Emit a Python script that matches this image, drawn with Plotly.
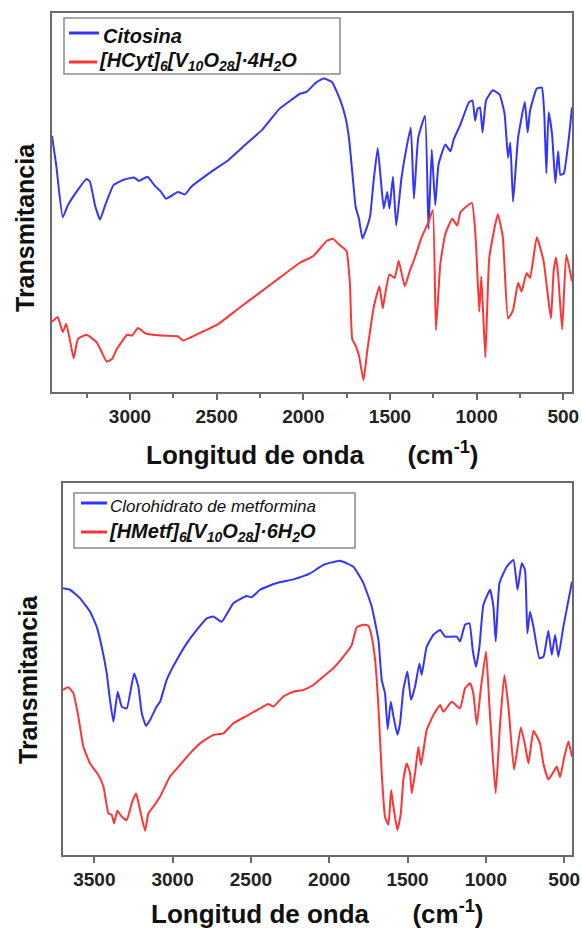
import plotly.graph_objects as go

# ---------------- data ----------------
# Top panel: Citosina (blue) and [HCyt]6[V10O28]·4H2O (red); transmittance in arbitrary units
wn_cyt = [3450, 3426, 3388, 3358, 3309, 3251, 3231, 3202, 3173, 3143, 3095, 3036, 2977, 2948, 2899,
          2860, 2821, 2792, 2724, 2684, 2645, 2528, 2430, 2333, 2235, 2138, 2059, 2020, 1981, 1923,
          1884, 1835, 1786, 1757, 1737, 1718, 1698, 1679, 1659, 1630, 1614, 1595, 1571, 1552, 1536,
          1516, 1503, 1483, 1464, 1434, 1405, 1380, 1362, 1337, 1298, 1278, 1259, 1239, 1220, 1181,
          1151, 1132, 1093, 1044, 1024, 1009, 995, 981, 966, 946, 907, 868, 839, 819, 806,
          790, 761, 722, 706, 692, 653, 624, 610, 598, 585, 565, 546, 530, 517, 497,
          468, 450]
t_cyt = [67.6, 60.0, 46.1, 49.3, 52.8, 56.2, 55.5, 49.3, 45.5, 49.3, 54.6, 56.0, 56.6, 55.7, 56.8,
         54.6, 52.8, 51.0, 52.8, 52.1, 54.2, 58.2, 61.3, 65.3, 69.3, 74.7, 77.4, 78.7, 79.2, 81.8,
         82.7, 81.8, 76.9, 72.5, 67.1, 58.2, 48.8, 45.7, 40.5, 43.9, 46.6, 55.5, 64.4, 55.5, 48.4,
         52.8, 48.4, 56.8, 43.9, 56.4, 64.4, 69.8, 51.0, 67.1, 72.9, 43.0, 64.0, 49.3, 60.0, 65.3,
         63.5, 66.7, 70.7, 76.5, 76.9, 71.6, 74.7, 75.1, 68.5, 76.9, 79.6, 78.5, 73.4, 61.8, 65.8,
         50.2, 67.1, 76.5, 68.5, 74.2, 80.1, 80.3, 73.4, 57.7, 73.8, 68.0, 55.1, 63.5, 57.3, 57.7,
         67.1, 75.1]

wn_hcyt = [3450, 3417, 3388, 3368, 3348, 3325, 3300, 3251, 3192, 3163, 3134, 3104, 3075, 3016, 2987,
           2954, 2909, 2821, 2724, 2694, 2606, 2489, 2372, 2255, 2138, 2020, 1942, 1864, 1829, 1786,
           1751, 1731, 1718, 1698, 1679, 1653, 1630, 1591, 1561, 1542, 1532, 1503, 1473, 1450, 1415,
           1386, 1356, 1318, 1278, 1253, 1235, 1210, 1181, 1141, 1112, 1093, 1028, 1005, 985, 973,
           950, 927, 878, 849, 819, 790, 761, 741, 712, 692, 653, 614, 585, 571, 556,
           542, 530, 507, 483, 450]
t_hcyt = [18.5, 19.8, 15.8, 18.0, 14.0, 8.9, 14.0, 15.1, 13.1, 10.5, 8.0, 8.7, 11.4, 15.1, 14.9,
          16.9, 15.4, 14.9, 14.7, 13.6, 15.4, 18.0, 22.1, 26.1, 30.1, 34.1, 35.9, 39.9, 40.4, 38.6,
          37.2, 28.3, 14.0, 12.2, 9.6, 3.1, 11.3, 23.0, 27.9, 22.1, 24.7, 31.0, 30.1, 34.6, 27.9,
          31.9, 35.5, 40.8, 44.8, 48.0, 16.3, 33.7, 41.7, 45.7, 43.9, 47.5, 49.9, 39.9, 21.2, 30.5,
          9.1, 35.5, 46.9, 40.8, 19.4, 21.6, 28.8, 26.5, 31.4, 30.1, 40.8, 34.6, 23.8, 19.4, 31.9,
          35.5, 31.0, 16.5, 36.3, 29.2]

# Bottom panel: Clorohidrato de metformina (blue) and [HMetf]6[V10O28]·6H2O (red)
wn_met = [3700, 3655, 3591, 3527, 3485, 3453, 3421, 3400, 3378, 3351, 3325, 3293, 3246, 3219, 3197,
          3170, 3144, 3102, 3080, 3038, 2974, 2910, 2846, 2782, 2740, 2687, 2612, 2527, 2495, 2442,
          2335, 2229, 2122, 2037, 1931, 1846, 1782, 1729, 1686, 1665, 1644, 1627, 1607, 1590, 1565,
          1548, 1527, 1501, 1478, 1452, 1424, 1410, 1378, 1335, 1292, 1260, 1186, 1165, 1133, 1105,
          1084, 1063, 1041, 1016, 973, 952, 937, 913, 867, 824, 798, 771, 750, 735, 718,
          696, 658, 632, 601, 579, 558, 537, 505, 450]
t_met = [71.7, 71.3, 69.0, 65.4, 61.4, 56.0, 48.9, 41.7, 35.8, 43.9, 39.9, 39.4, 48.8, 45.3, 38.1,
         34.7, 36.3, 39.9, 41.2, 47.1, 52.4, 56.9, 60.5, 63.6, 64.1, 62.7, 67.7, 69.6, 69.3, 71.3,
         73.1, 74.1, 75.7, 78.0, 79.1, 77.5, 73.1, 66.8, 57.8, 47.1, 43.5, 33.8, 41.2, 37.2, 32.3,
         35.4, 44.4, 49.3, 41.7, 45.3, 51.5, 48.4, 56.0, 59.2, 60.5, 58.7, 58.7, 57.4, 61.9, 62.3,
         55.1, 50.6, 56.0, 67.2, 71.3, 66.8, 57.4, 73.1, 77.5, 79.3, 71.3, 78.4, 76.6, 59.6, 65.4,
         61.4, 52.9, 53.3, 60.3, 53.8, 59.2, 53.3, 61.4, 73.5]

wn_hmet = [3700, 3666, 3634, 3602, 3570, 3527, 3474, 3442, 3410, 3389, 3374, 3353, 3325, 3293, 3261,
           3234, 3208, 3176, 3155, 3123, 3080, 3017, 2953, 2889, 2825, 2740, 2676, 2612, 2527, 2442,
           2389, 2357, 2293, 2229, 2165, 2101, 2037, 1974, 1910, 1856, 1825, 1782, 1750, 1729, 1707,
           1686, 1665, 1644, 1622, 1605, 1590, 1565, 1543, 1527, 1505, 1484, 1473, 1452, 1431, 1414,
           1378, 1335, 1292, 1271, 1218, 1165, 1133, 1101, 1080, 1058, 1033, 999, 977, 956, 937,
           909, 882, 856, 820, 777, 750, 728, 696, 654, 633, 601, 573, 547, 526, 501,
           473, 450]
t_hmet = [44.4, 45.1, 43.5, 37.2, 29.1, 24.6, 21.5, 18.4, 11.2, 10.8, 8.5, 11.9, 10.3, 9.4, 13.9,
          16.6, 12.1, 6.5, 11.2, 13.0, 15.7, 21.1, 24.2, 27.3, 30.0, 32.3, 32.7, 35.4, 37.4, 39.4,
          40.6, 39.9, 42.6, 43.9, 44.4, 45.7, 48.0, 50.2, 53.3, 56.5, 61.2, 61.9, 61.6, 58.7, 52.4,
          39.9, 22.0, 10.3, 8.1, 17.5, 13.0, 6.7, 11.2, 20.2, 24.6, 22.0, 16.6, 22.0, 29.1, 24.2,
          33.6, 37.6, 40.3, 38.5, 41.2, 39.4, 44.8, 46.2, 43.5, 35.0, 44.4, 54.7, 39.9, 26.4, 16.6,
          35.4, 48.4, 39.9, 22.9, 34.3, 29.6, 24.6, 33.4, 30.0, 24.6, 20.3, 22.0, 23.8, 20.9, 26.0,
          30.5, 26.4]

names_top = ["Citosina", "[HCyt]<sub>6</sub>[V<sub>10</sub>O<sub>28</sub>]·4H<sub>2</sub>O"]
names_bot = ["Clorohidrato de metformina", "[HMetf]<sub>6</sub>[V<sub>10</sub>O<sub>28</sub>]·6H<sub>2</sub>O"]
ticks_top = [3000, 2500, 2000, 1500, 1000, 500]
ticks_bot = [3500, 3000, 2500, 2000, 1500, 1000, 500]
range_top = [3450, 450]
range_bot = [3700, 450]

# ---------------- figure ----------------
W, H = 582, 932
BLUE = "#3434ff"
RED = "#ff3434"
FONT = "Liberation Sans, Arial, sans-serif"
FRAME = "#6a6a6a"
LEG_BORDER = "#8a8a8a"
LW = 2.0
LINE_SHAPE = dict(shape="spline", smoothing=0.4)

fig = go.Figure()
fig.add_trace(go.Scatter(x=wn_cyt, y=t_cyt, mode="lines", line=dict(color=BLUE, width=LW, **LINE_SHAPE),
                         name=names_top[0], xaxis="x", yaxis="y", showlegend=False))
fig.add_trace(go.Scatter(x=wn_hcyt, y=t_hcyt, mode="lines", line=dict(color=RED, width=LW, **LINE_SHAPE),
                         name=names_top[1], xaxis="x", yaxis="y", showlegend=False))
fig.add_trace(go.Scatter(x=wn_met, y=t_met, mode="lines", line=dict(color=BLUE, width=LW, **LINE_SHAPE),
                         name=names_bot[0], xaxis="x2", yaxis="y2", showlegend=False))
fig.add_trace(go.Scatter(x=wn_hmet, y=t_hmet, mode="lines", line=dict(color=RED, width=LW, **LINE_SHAPE),
                         name=names_bot[1], xaxis="x2", yaxis="y2", showlegend=False))


def px_x(v):
    return v / W


def px_y(v):
    return 1 - v / H


axis_common = dict(showline=True, linecolor=FRAME, linewidth=2, mirror=True, showgrid=False,
                   zeroline=False, automargin=False)
tickfont = dict(family=FONT, size=19, color="#222222", weight="bold")

fig.update_layout(
    width=W, height=H, margin=dict(l=0, r=0, t=0, b=0, autoexpand=False),
    paper_bgcolor="white", plot_bgcolor="white", showlegend=False,
    xaxis=dict(domain=[px_x(52), px_x(572)], range=range_top, anchor="y", tickvals=ticks_top,
               ticks="outside", ticklen=6, tickwidth=1.5, tickcolor=FRAME, tickfont=tickfont,
               minor=dict(dtick=250, tick0=0, ticks="outside", ticklen=4, tickwidth=1.5, tickcolor=FRAME),
               **axis_common),
    yaxis=dict(domain=[px_y(392), px_y(13)], range=[0, 100], anchor="x", showticklabels=False,
               ticks="", **axis_common),
    xaxis2=dict(domain=[px_x(63), px_x(572)], range=range_bot, anchor="y2", tickvals=ticks_bot,
                ticks="outside", ticklen=6, tickwidth=1.5, tickcolor=FRAME, tickfont=tickfont,
                **axis_common),
    yaxis2=dict(domain=[px_y(855), px_y(483)], range=[0, 100], anchor="x2", showticklabels=False,
                ticks="", **axis_common),
)

# ---- legends drawn as boxes, line samples and texts (paper coordinates) ----
shapes = []
ann = []


def legend_box(x0, y0, x1, y1, entries):
    shapes.append(dict(type="rect", xref="paper", yref="paper", x0=px_x(x0), x1=px_x(x1),
                       y0=px_y(y1), y1=px_y(y0), line=dict(color=LEG_BORDER, width=1.5),
                       fillcolor="white", layer="above"))
    for (lx0, lx1, ly, color, tx, ty, text, font) in entries:
        shapes.append(dict(type="line", xref="paper", yref="paper", x0=px_x(lx0), x1=px_x(lx1),
                           y0=px_y(ly), y1=px_y(ly), line=dict(color=color, width=3), layer="above"))
        ann.append(dict(x=px_x(tx), y=px_y(ty), text=text, xanchor="left", yanchor="middle",
                        font=font, xref="paper", yref="paper", showarrow=False))


big = dict(family=FONT, size=20, color="#111111")
small = dict(family=FONT, size=17, color="#111111")
legend_box(64, 18, 340, 74, [
    (69, 99, 33, BLUE, 101, 36, "<b><i>" + names_top[0] + "</i></b>", big),
    (69, 97, 62, RED, 97, 61, "<b><i>" + names_top[1] + "</i></b>", big),
])
legend_box(74, 493, 355, 548, [
    (81, 107, 503, BLUE, 108, 507, "<i>" + names_bot[0] + "</i>", small),
    (81, 107, 532, RED, 107, 532, "<b><i>" + names_bot[1] + "</i></b>", big),
])

xtitle = "<b>Longitud de onda\u00a0\u00a0\u00a0\u00a0\u00a0 (cm<sup>-1</sup>)</b>"
titles = [
    dict(x=px_x(312), y=px_y(453), text=xtitle, font=dict(family=FONT, size=26, color="#111111")),
    dict(x=px_x(318), y=px_y(912), text=xtitle, font=dict(family=FONT, size=26, color="#111111")),
    dict(x=px_x(25), y=px_y(228), text="<b>Transmitancia</b>", textangle=-90,
         font=dict(family=FONT, size=25, color="#111111")),
    dict(x=px_x(28), y=px_y(680), text="<b>Transmitancia</b>", textangle=-90,
         font=dict(family=FONT, size=25, color="#111111")),
]
for a in titles:
    a.update(xref="paper", yref="paper", showarrow=False, xanchor="center", yanchor="middle")
fig.update_layout(annotations=titles + ann, shapes=shapes)

fig.write_html("out.html", config={"displayModeBar": False},
               post_script="document.body.style.margin='0px';document.body.style.padding='0px';")
